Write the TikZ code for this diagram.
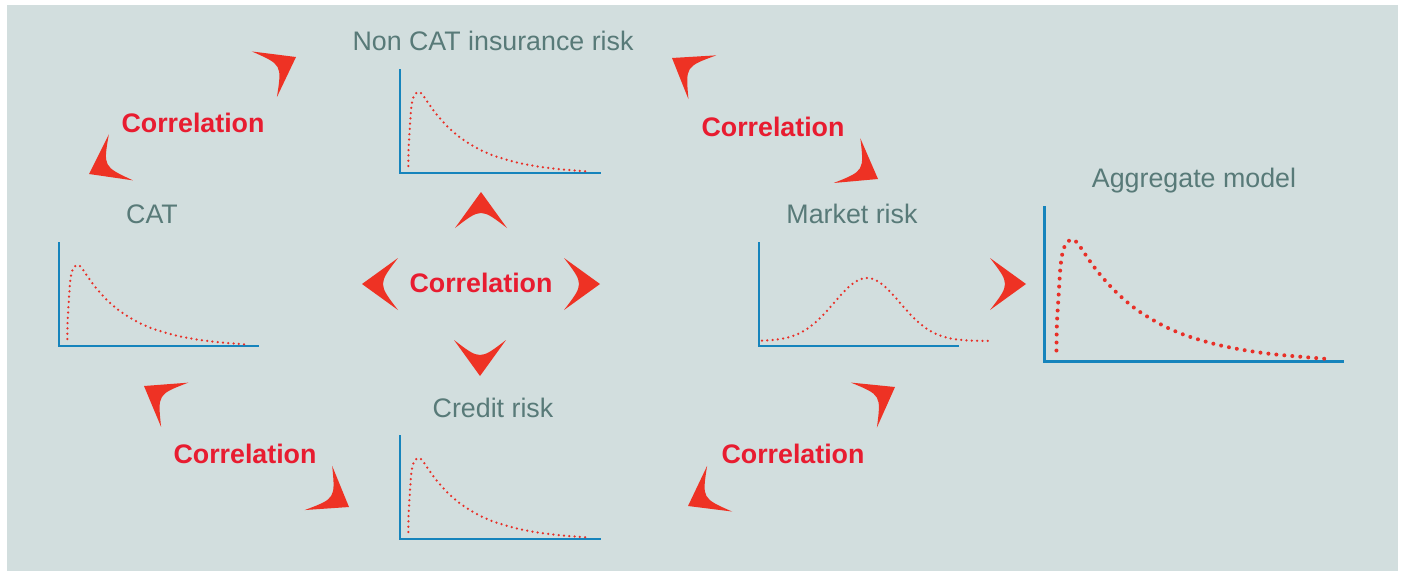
\documentclass[tikz,border=0pt]{standalone}
\usepackage{fontspec}
\setmainfont{Liberation Sans}
\usepackage{tikz}
\definecolor{panelgray}{RGB}{210,222,222}
\definecolor{labelgray}{RGB}{88,122,120}
\definecolor{corrred}{RGB}{232,28,48}
\definecolor{headred}{RGB}{238,50,36}
\definecolor{axisblue}{RGB}{22,132,188}
\definecolor{dotred}{RGB}{232,48,40}

% skewed loss curve, drawn in chart units (x right, y up from the origin)
\newcommand{\skewcurve}[1]{%
  \draw[#1] plot[smooth, tension=0.5] coordinates {(8.3,7) (8.6,25) (9.7,43) (11,63) (12.8,74) (15.7,79.5) (19,81) (22,79) (26,73.4) (30,67.4) (36,59.3) (45,49) (55,39.6) (65,32) (80,23.3) (95,16.9) (115,11) (135,7) (155,4.3) (187,1.5)};}

\begin{document}
\begin{tikzpicture}[x=1pt, y=-1pt, font=\fontsize{26.8}{32}\selectfont,
  riskname/.style={labelgray, anchor=base},
  corr/.style={corrred, font=\fontsize{26.8}{32}\selectfont\bfseries, anchor=base},
  axis/.style={axisblue, line width=2pt},
  dots/.style={dotred, line width=2.5pt, line cap=round, dash pattern=on 0pt off 5.3pt},
  bigdots/.style={dotred, line width=4pt, line cap=round, dash pattern=on 0pt off 8pt},
  swoosh/.pic={\fill[headred] (0,0) -- (-36,26) .. controls (-16,0) .. (-36,-26) -- cycle;}]
  \useasboundingbox (0,0) rectangle (1404,571);
  \fill[panelgray] (7,5) rectangle (1398,571);

  % --- risk labels ---
  \node[riskname] (noncat) at (493,50) {Non CAT insurance risk};
  \node[riskname] (cat) at (152,223) {CAT};
  \node[riskname] (credit) at (493,417) {Credit risk};
  \node[riskname] (market) at (852,223) {Market risk};
  \node[riskname] (aggr) at (1194,187) {Aggregate model};

  % --- small charts ---
  \begin{scope}[shift={(400,173)}, yscale=-1]
    \draw[axis] (0,104) -- (0,0) -- (201,0);
    \skewcurve{dots}
  \end{scope}
  \begin{scope}[shift={(59,346)}, yscale=-1]
    \draw[axis] (0,104) -- (0,0) -- (200,0);
    \skewcurve{dots}
  \end{scope}
  \begin{scope}[shift={(400,539)}, yscale=-1]
    \draw[axis] (0,104) -- (0,0) -- (201,0);
    \skewcurve{dots}
  \end{scope}
  \begin{scope}[shift={(759,346)}, yscale=-1]
    \draw[axis] (0,104) -- (0,0) -- (200,0);
    \draw[dots] plot[domain=3:231, samples=90, smooth] (\x, {5+63*exp(-0.5*(((\x-108)/33)^2))});
  \end{scope}

  % --- aggregate chart ---
  \begin{scope}[shift={(1044,361)}, scale=1.5, yscale=-1]
    \draw[axis, line width=3pt] (0,103.3) -- (0,0) -- (200,0);
    \skewcurve{bigdots}
  \end{scope}

  % --- correlation labels ---
  \node[corr] (corrtl) at (193,132) {Correlation};
  \node[corr] (corrtr) at (773,136) {Correlation};
  \node[corr] (corrc) at (481,292) {Correlation};
  \node[corr] (corrbl) at (245,463) {Correlation};
  \node[corr] (corrbr) at (793,463) {Correlation};

  % arrowheads round each label
  \pic[rotate=28.7] (tl1) at (296,57) {swoosh};
  \pic[rotate=207.6] (tl2) at (89,174) {swoosh};
  \pic[rotate=147.6] (tr1) at (672,58) {swoosh};
  \pic[rotate=-30.7] (tr2) at (878,179) {swoosh};
  \pic[rotate=90] (cu) at (481,192) {swoosh};
  \pic[rotate=-90] (cd) at (480,376) {swoosh};
  \pic[rotate=180] (cl) at (362,284) {swoosh};
  \pic[rotate=0] (cr) at (600,284) {swoosh};
  \pic[rotate=148.5] (bl1) at (144,386) {swoosh};
  \pic[rotate=-31.9] (bl2) at (349,507) {swoosh};
  \pic[rotate=30.1] (br1) at (895,387) {swoosh};
  \pic[rotate=208.7] (br2) at (688,506) {swoosh};

  % into the aggregate model
  \pic (agg) at (1026,284) {swoosh};
\end{tikzpicture}
\end{document}
